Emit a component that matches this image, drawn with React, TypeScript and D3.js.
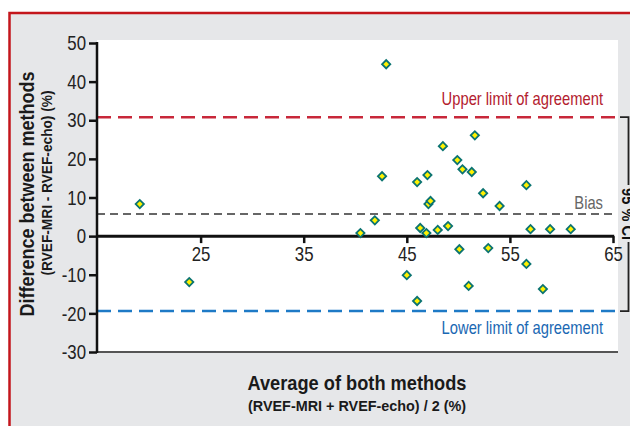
import React, { useEffect, useRef } from 'react';
import * as d3 from 'd3';

// Bland-Altman data: average of both methods vs difference (%)
const avgValues = [
  19.1, 23.9, 43.0, 42.6, 41.9, 40.5, 45.0, 46.0, 47.0, 48.5, 49.9,
  50.4, 51.3, 51.6, 52.4, 54.0, 56.6, 47.1, 47.3, 46.0, 46.3, 46.9,
  48.0, 49.0, 50.1, 51.0, 52.9, 56.6, 58.2, 57.0, 58.9, 60.9,
];
const diffValues = [
  8.3, -11.9, 44.5, 15.5, 4.1, 0.8, -10.1, 14.0, 15.8, 23.3, 19.7,
  17.3, 16.6, 26.1, 11.1, 7.8, 13.2, 8.3, 9.1, -16.8, 2.1, 0.8,
  1.6, 2.6, -3.4, -12.9, -3.1, -7.2, -13.7, 1.8, 1.8, 1.8,
];
const xTicks = [25, 35, 45, 55, 65];
const yTicks = [-30, -20, -10, 0, 10, 20, 30, 40, 50];
const upperLimit = 30.8;
const bias = 5.7;
const lowerLimit = -19.4;

const FONT = '"Liberation Sans", Arial, sans-serif';

// condensed look: squeeze each text horizontally
const squeeze = (sel: any, factor: number) => {
  sel.each(function (this: SVGTextElement) {
    const w = this.getComputedTextLength();
    d3.select(this).attr('textLength', w * factor).attr('lengthAdjust', 'spacingAndGlyphs');
  });
};

const App = () => {
  const ref = useRef<SVGSVGElement>(null);

  useEffect(() => {
    const svg = d3.select(ref.current);
    svg.selectAll('*').remove();

    const width = 630;
    const height = 426;
    const plot = { left: 97, right: 618, top: 40, bottom: 353 };

    const x = d3.scaleLinear().domain([15, 65]).range([97.5, 613]);
    const y = d3.scaleLinear().domain([-30, 50]).range([352, 43]);

    // Background + red frame
    svg.append('rect').attr('width', width).attr('height', height).attr('fill', '#ffffff');
    svg.append('rect')
      .attr('x', 9.5).attr('y', 13)
      .attr('width', width).attr('height', height)
      .attr('fill', '#e6e7e9')
      .attr('stroke', '#c4161c')
      .attr('stroke-width', 2.5);

    // White plot area
    svg.append('rect')
      .attr('x', plot.left).attr('y', plot.top)
      .attr('width', plot.right - plot.left).attr('height', plot.bottom - plot.top)
      .attr('fill', '#ffffff');

    // Bottom border of plot
    svg.append('line')
      .attr('x1', plot.left).attr('x2', plot.right)
      .attr('y1', y(-30)).attr('y2', y(-30))
      .attr('stroke', '#555').attr('stroke-width', 2);

    // Reference lines
    const refLine = (v: number, color: string, dash: string, w: number) =>
      svg.append('line')
        .attr('x1', plot.left).attr('x2', 616)
        .attr('y1', y(v)).attr('y2', y(v))
        .attr('stroke', color).attr('stroke-width', w)
        .attr('stroke-dasharray', dash);
    refLine(upperLimit, '#c8283a', '14,7', 2.5);
    refLine(bias, '#666666', '8,5', 2);
    refLine(lowerLimit, '#1e7ac6', '14,7', 2.5);

    const refLabel = (v: number, text: string, color: string, dy: number) =>
      svg.append('text')
        .attr('transform', `translate(603,${y(v) + dy}) scale(0.82,1)`)
        .attr('text-anchor', 'end')
        .attr('fill', color)
        .style('font-family', FONT)
        .style('font-size', '18px')
        .text(text);
    refLabel(upperLimit, 'Upper limit of agreement', '#b3202e', -12);
    refLabel(bias, 'Bias', '#666666', -5);
    refLabel(lowerLimit, 'Lower limit of agreement', '#1a68b3', 23);

    // Y axis
    const yAxis = svg.append('g')
      .attr('transform', `translate(${plot.left},0)`)
      .call(d3.axisLeft(y).tickValues(yTicks).tickSize(8).tickPadding(3).tickFormat(d3.format('d')));
    yAxis.select('.domain').remove();
    yAxis.selectAll('line').attr('stroke', '#111').attr('stroke-width', 2.5);
    yAxis.selectAll('text')
      .style('font-family', FONT).style('font-size', '21px').attr('fill', '#222')
      .text((d: any) => (d < 0 ? '-' + Math.abs(d) : String(d)));
    squeeze(yAxis.selectAll('text'), 0.8);
    svg.append('line')
      .attr('x1', plot.left).attr('x2', plot.left)
      .attr('y1', y(50) - 1).attr('y2', y(-30) + 1)
      .attr('stroke', '#111').attr('stroke-width', 2.5);

    // X axis at zero
    const xAxis = svg.append('g')
      .attr('transform', `translate(0,${y(0)})`)
      .call(d3.axisBottom(x).tickValues(xTicks).tickSize(7).tickPadding(3));
    xAxis.select('.domain').remove();
    xAxis.selectAll('line').attr('stroke', '#111').attr('stroke-width', 2.5);
    xAxis.selectAll('text')
      .style('font-family', FONT).style('font-size', '21px').attr('fill', '#222');
    squeeze(xAxis.selectAll('text'), 0.8);
    svg.append('line')
      .attr('x1', plot.left).attr('x2', x(65) + 1.2)
      .attr('y1', y(0)).attr('y2', y(0))
      .attr('stroke', '#111').attr('stroke-width', 3);

    // Points
    const points = avgValues.map((a, i) => ({ a, d: diffValues[i] }));
    svg.append('g')
      .selectAll('path')
      .data(points)
      .enter().append('path')
      .attr('d', d3.symbol().type(d3.symbolSquare).size(34)())
      .attr('transform', p => `translate(${x(p.a)},${y(p.d)}) rotate(45)`)
      .attr('fill', '#fff200')
      .attr('stroke', '#0c7471')
      .attr('stroke-width', 1.8);

    // 95% CI bracket
    const bx = 628.5;
    svg.append('path')
      .attr('d', `M620,${y(upperLimit)}H${bx}V185M${bx},242V${y(lowerLimit)}H620`)
      .attr('fill', 'none').attr('stroke', '#222').attr('stroke-width', 1.8);
    svg.append('text')
      .attr('transform', `translate(622,${(y(upperLimit) + y(lowerLimit)) / 2}) rotate(90)`)
      .attr('text-anchor', 'middle')
      .attr('textLength', 52).attr('lengthAdjust', 'spacingAndGlyphs')
      .style('font-family', FONT).style('font-size', '17px').style('font-weight', 'bold')
      .attr('fill', '#111')
      .text('95 % CI');

    // Axis titles
    const title = (tx: number, ty: number, rot: number, size: number, len: number, text: string) =>
      svg.append('text')
        .attr('transform', `translate(${tx},${ty}) rotate(${rot})`)
        .attr('text-anchor', 'middle')
        .attr('textLength', len).attr('lengthAdjust', 'spacingAndGlyphs')
        .style('font-family', FONT).style('font-size', `${size}px`).style('font-weight', 'bold')
        .attr('fill', '#1a1a1a')
        .text(text);
    title(34, 194, -90, 21, 245, 'Difference between methods');
    title(52, 183, -90, 15, 185, '(RVEF-MRI - RVEF-echo) (%)');
    title(357, 390, 0, 21, 219, 'Average of both methods');
    title(357, 411, 0, 15, 218, '(RVEF-MRI + RVEF-echo) / 2 (%)');
  }, []);

  return (
    <svg
      ref={ref}
      width={630}
      height={426}
      style={{ position: 'absolute', left: 0, top: 0, display: 'block' }}
    />
  );
};

export default App;
